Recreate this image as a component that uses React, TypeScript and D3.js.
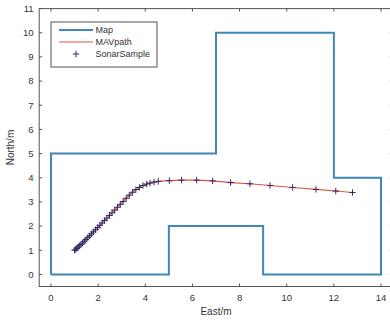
import React from "react";
import * as d3 from "d3";

const mapX = [0, 0, 7, 7, 12, 12, 14, 14, 9, 9, 5, 5, 0];
const mapY = [0, 5, 5, 10, 10, 4, 4, 0, 0, 2, 2, 0, 0];

const pathX = [1.0, 1.05, 1.1, 1.15, 1.2, 1.27, 1.34, 1.41, 1.48, 1.56, 1.64, 1.72, 1.8, 1.89, 1.98, 2.07, 2.17, 2.27, 2.37, 2.48, 2.59, 2.7, 2.82, 2.94, 3.06, 3.19, 3.32, 3.46, 3.6, 3.75, 3.9, 4.06, 4.2, 4.37, 4.55, 5.02, 5.54, 6.18, 6.86, 7.62, 8.44, 9.29, 10.25, 11.24, 12.08, 12.79];
const pathY = [1.0, 1.04, 1.08, 1.13, 1.18, 1.24, 1.3, 1.37, 1.44, 1.52, 1.6, 1.68, 1.76, 1.85, 1.94, 2.03, 2.13, 2.23, 2.33, 2.44, 2.55, 2.66, 2.78, 2.9, 3.02, 3.15, 3.28, 3.4, 3.51, 3.6, 3.68, 3.74, 3.78, 3.82, 3.85, 3.88, 3.9, 3.9, 3.87, 3.8, 3.75, 3.68, 3.6, 3.52, 3.45, 3.39];

const xTicks = [0, 2, 4, 6, 8, 10, 12, 14];
const yTicks = [0, 1, 2, 3, 4, 5, 6, 7, 8, 9, 10, 11];
const legendLabels = ["Map", "MAVpath", "SonarSample"];

const W = 390, H = 320;
const left = 39.2, right = 392.8, top = 8.6, bottom = 286.5;

export default function App() {
  const x = d3.scaleLinear().domain([-0.5, 14.5]).range([left, right]);
  const y = d3.scaleLinear().domain([-0.5, 11]).range([bottom, top]);
  const line = d3.line<[number, number]>().x(d => x(d[0])).y(d => y(d[1]));
  const mapPts = mapX.map((v, i) => [v, mapY[i]] as [number, number]);
  const pathPts = pathX.map((v, i) => [v, pathY[i]] as [number, number]);
  const font = "'Liberation Sans', Arial, sans-serif";
  const tl = 3;
  const mapColor = "#3f86b9";
  const pathColor = "#e5533f";
  const markColor = "#2e2b66";
  const axisColor = "#555";
  const textColor = "#333";
  const m = 3.2;
  return (
    <svg width={W} height={H} style={{ position: "absolute", left: 0, top: 0, background: "#fff" }} fontFamily={font}>
      <defs>
        <clipPath id="pa"><rect x={left} y={top} width={right - left} height={bottom - top} /></clipPath>
      </defs>
      <g clipPath="url(#pa)">
        <path d={line(mapPts) || ""} fill="none" stroke={mapColor} strokeWidth={2} />
        <path d={line(pathPts) || ""} fill="none" stroke={pathColor} strokeWidth={1.1} />
        {pathPts.map((p, i) => (
          <g key={i} stroke={markColor} strokeWidth={1}>
            <line x1={x(p[0]) - m} x2={x(p[0]) + m} y1={y(p[1])} y2={y(p[1])} />
            <line x1={x(p[0])} x2={x(p[0])} y1={y(p[1]) - m} y2={y(p[1]) + m} />
          </g>
        ))}
      </g>
      <rect x={left} y={top} width={right - left} height={bottom - top} fill="none" stroke={axisColor} strokeWidth={1} />
      {xTicks.map(t => (
        <g key={"x" + t}>
          <line x1={x(t)} x2={x(t)} y1={bottom} y2={bottom - tl} stroke={axisColor} />
          <line x1={x(t)} x2={x(t)} y1={top} y2={top + tl} stroke={axisColor} />
          <text x={x(t)} y={301} fontSize={9.5} textAnchor="middle" fill={textColor}>{t}</text>
        </g>
      ))}
      {yTicks.map(t => (
        <g key={"y" + t}>
          <line x1={left} x2={left + tl} y1={y(t)} y2={y(t)} stroke={axisColor} />
          <line x1={right} x2={right - tl} y1={y(t)} y2={y(t)} stroke={axisColor} />
          <text x={33.5} y={y(t) + 3.3} fontSize={9.5} textAnchor="end" fill={textColor}>{t}</text>
        </g>
      ))}
      <text x={(left + right) / 2} y={315} fontSize={10} textAnchor="middle" fill={textColor}>East/m</text>
      <text transform={`translate(13.5, ${(top + bottom) / 2}) rotate(-90)`} fontSize={10} textAnchor="middle" fill={textColor}>North/m</text>
      <g>
        <rect x={51} y={22} width={106} height={45} fill="#fff" stroke={axisColor} strokeWidth={1} />
        <line x1={59} x2={93} y1={30} y2={30} stroke={mapColor} strokeWidth={2} />
        <line x1={59} x2={93} y1={42} y2={42} stroke={pathColor} strokeWidth={1.1} />
        <g stroke={markColor} strokeWidth={1}>
          <line x1={76 - m} x2={76 + m} y1={54} y2={54} />
          <line x1={76} x2={76} y1={54 - m} y2={54 + m} />
        </g>
        {legendLabels.map((l, i) => (
          <text key={l} x={95.5} y={33 + i * 12} fontSize={9} fill={textColor}>{l}</text>
        ))}
      </g>
    </svg>
  );
}
